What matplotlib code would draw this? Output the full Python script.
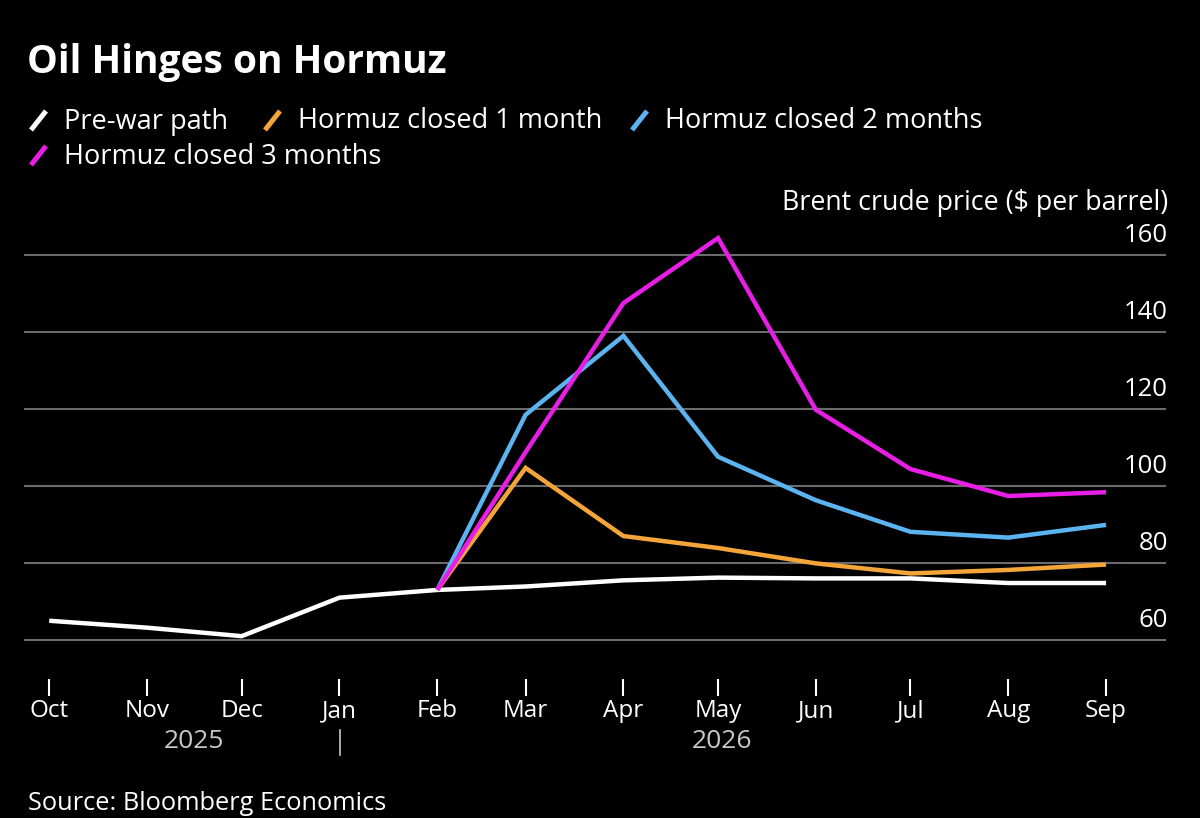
import numpy as np
import matplotlib
matplotlib.use("Agg")
import matplotlib.pyplot as plt
from matplotlib.lines import Line2D

plt.rcParams['font.family'] = ['Open Sans', 'DejaVu Sans']

# Data (Brent crude, $ per barrel)
months = ["2025-10-01", "2025-11-01", "2025-12-01", "2026-01-01", "2026-02-01", "2026-03-01",
          "2026-04-01", "2026-05-01", "2026-06-01", "2026-07-01", "2026-08-01", "2026-09-01"]
month_labels = ["Oct", "Nov", "Dec", "Jan", "Feb", "Mar", "Apr", "May", "Jun", "Jul", "Aug", "Sep"]
pre_war = [65.0, 63.2, 61.0, 71.0, 73.0, 73.9, 75.5, 76.2, 76.0, 76.0, 74.8, 74.8]
closed_1m = [None, None, None, None, 73.0, 104.7, 87.0, 83.9, 79.9, 77.3, 78.2, 79.6]
closed_2m = [None, None, None, None, 73.0, 118.5, 139.0, 107.6, 96.3, 88.1, 86.6, 89.9]
closed_3m = [None, None, None, None, 73.0, 108.8, 147.5, 164.4, 119.8, 104.4, 97.4, 98.4]
yticks = [60, 80, 100, 120, 140, 160]

series_names = ["Pre-war path", "Hormuz closed 1 month", "Hormuz closed 2 months", "Hormuz closed 3 months"]
colors = ["#ffffff", "#f4a53a", "#5bb3f0", "#e81ee6"]

dates = np.array(months, dtype="datetime64[D]")


def arr(v):
    return np.array([np.nan if x is None else x for x in v], dtype=float)


W, H = 1200, 818
fig = plt.figure(figsize=(W / 100, H / 100), dpi=100, facecolor="black")


def fx(px):
    return px / W


def fy(py):
    return 1 - py / H


ax = fig.add_axes([fx(24), fy(678.5), fx(1166) - fx(24), fy(216.5) - fy(678.5)])
ax.set_facecolor("black")

# gridlines
for v in yticks:
    ax.axhline(v, color="#6b6b6b", lw=1.5, zorder=1)

# lines (white first, orange last so it sits on top at the junction)
order = [0, 2, 3, 1]
data = [pre_war, closed_1m, closed_2m, closed_3m]
for i in order:
    ax.plot(dates, arr(data[i]), color=colors[i], lw=3.2, solid_joinstyle="miter",
            solid_capstyle="butt", zorder=3 + i)

ax.set_ylim(50, 170)
ax.set_xlim(np.datetime64("2025-09-23"), np.datetime64("2026-09-20"))
for s in ax.spines.values():
    s.set_visible(False)

ax.set_xticks(dates)
ax.set_xticklabels(month_labels, color="white", fontsize=17.5)
ax.tick_params(axis="x", length=12, width=1.5, color="white", pad=3)
ax.set_yticks([])

# y tick labels above gridlines, right side
for v in yticks:
    ax.annotate(str(v), xy=(1.0, v), xycoords=("axes fraction", "data"),
                xytext=(2, 7), textcoords="offset pixels",
                ha="right", va="bottom", color="white", fontsize=18.5)

# year labels
fig.text(fx(194), fy(742), "2025", ha="center", va="center", color="#c8c8c8", fontsize=19)
fig.text(fx(722), fy(742), "2026", ha="center", va="center", color="#c8c8c8", fontsize=19)
fig.add_artist(Line2D([fx(339.5), fx(339.5)], [fy(730), fy(755)], color="#c8c8c8", lw=1.2,
                      transform=fig.transFigure))

# title, legend, axis title, source
fig.text(fx(27), fy(63), "Oil Hinges on Hormuz", ha="left", va="center", color="white",
         fontsize=28, fontweight="bold")

legend_pos = [(29, 120), (263, 120), (630, 120), (29, 155)]
for (x0, y0), name, c in zip(legend_pos, series_names, colors):
    fig.add_artist(Line2D([fx(x0 + 2), fx(x0 + 17)], [fy(y0 + 10), fy(y0 - 9)], color=c, lw=3.6,
                          solid_capstyle="butt", transform=fig.transFigure))
    fig.text(fx(x0 + 35), fy(y0 + 1.5), name, ha="left", va="center", color="white", fontsize=19.5)

fig.text(fx(1168), fy(203), "Brent crude price ($ per barrel)", ha="right", va="center",
         color="white", fontsize=19.3)
fig.text(fx(28), fy(803), "Source: Bloomberg Economics", ha="left", va="center",
         color="white", fontsize=18.3)

fig.savefig("out.png", dpi=100, facecolor="black")
